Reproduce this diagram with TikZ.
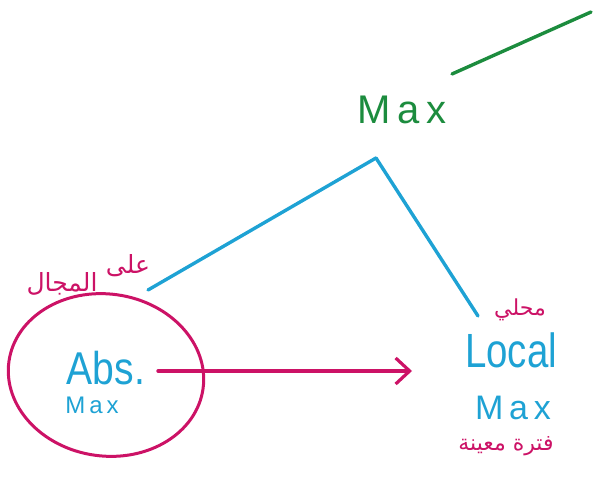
\documentclass[tikz,border=0pt]{standalone}
\usepackage{fontspec}
\setmainfont{Liberation Sans}
\newfontfamily\arabicfont[Script=Arabic]{DejaVu Sans}
\TeXXeTstate=1
\usetikzlibrary{arrows.meta,shapes.geometric}
\definecolor{hgreen}{RGB}{28,140,62}
\definecolor{hblue}{RGB}{30,162,212}
\definecolor{hpink}{RGB}{204,18,102}
\tikzset{
  pen/.style={line width=3.4pt, line cap=round, line join=round},
  word/.style={inner sep=0pt, anchor=base},
  ar/.style={inner sep=0pt, text=hpink},
}
\begin{document}
\begin{tikzpicture}[x=1pt,y=-1pt]
\useasboundingbox (0,0) rectangle (596,476);
% green top line
\coordinate (g1) at (452,74);
\coordinate (g2) at (591,12);
\draw[pen,hgreen] (g1) -- (g2);
% Max top
\node[word,text=hgreen,font=\fontsize{40}{44}\selectfont] (maxtop) at (402,124) {M\,a\,x};
\coordinate (apex) at (376,158);
% Local Max
\node[word,text=hblue,font=\fontsize{48}{52}\selectfont] (local) at (511,367) {\scalebox{0.8}[1]{Local}};
\node[word,text=hblue,font=\fontsize{34}{38}\selectfont] (lmax) at (513,419) {M\,a\,x};
% Abs Max
\node[word,text=hblue,font=\fontsize{46}{50}\selectfont] (abs) at (106,384) {\scalebox{0.85}[1]{Abs.}};
\node[word,text=hblue,font=\fontsize{24}{28}\selectfont] (amax) at (92,413) {M\,a\,x};
% ellipse
\node[draw=hpink,line width=3pt,ellipse,minimum width=196pt,minimum height=162pt,rotate=-8,inner sep=0pt] (circ) at (106,375) {};
% blue branches
\coordinate (lt) at (148,290);
\coordinate (rt) at (478,316);
\draw[pen,hblue] (apex) -- (lt);
\draw[pen,hblue] (apex) -- (rt);
% arrow
\coordinate (ast) at (158,371);
\coordinate (aen) at (412,371);
\draw[pen,hpink,-{Straight Barb[length=14pt,width=26pt,line width=3.2pt]}] (ast) -- (aen);
% arabic labels
\node[ar,font=\arabicfont\fontsize{25}{28}\selectfont] (ar1b) at (128,266) {\beginR على\endR};
\node[ar,font=\arabicfont\fontsize{25}{28}\selectfont] (ar1a) at (62,284) {\beginR المجال\endR};
\node[ar,font=\arabicfont\fontsize{22}{24}\selectfont] (ar2) at (520,310) {\beginR محلي\endR};
\node[ar,font=\arabicfont\fontsize{22}{26}\selectfont] (ar3) at (506,446) {\beginR فترة معينة\endR};
\end{tikzpicture}
\end{document}
